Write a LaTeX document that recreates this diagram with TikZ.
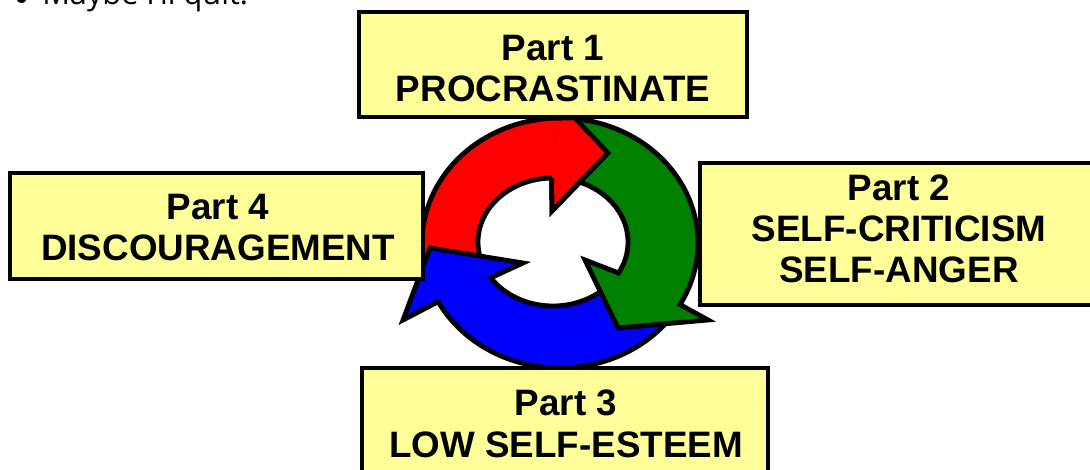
\documentclass[tikz,border=0pt]{standalone}
\usepackage{fontspec}
\setmainfont{Liberation Sans}
\newfontfamily\quitfont{Open Sans}
\definecolor{boxyellow}{RGB}{255,255,153}
\definecolor{cgreen}{RGB}{0,128,0}
\begin{document}
\begin{tikzpicture}[x=0.75pt,y=-0.75pt,
  box/.style={draw=black, line width=2.4pt, fill=boxyellow, inner sep=0pt},
  boxtext/.style={align=center, inner sep=0pt, font=\bfseries\fontsize{27.6}{31}\selectfont},
  arrowshape/.style={draw=black, line width=3.6pt, line join=miter},
  quitstyle/.style={anchor=base west, inner sep=0pt, font=\quitfont\fontsize{23}{27}\selectfont},
]
\useasboundingbox (0,0) rectangle (1090,470);

% partially visible line of text at the top
\node[quitstyle, font=\quitfont\fontsize{34}{38}\selectfont] (bullet) at (13,15) {•};
\node[quitstyle] (quit) at (42,5) {Maybe I’ll quit.};

% circular arrows
\filldraw[arrowshape, fill=red]
  plot[domain=160:267, samples=60] ({560+138*cos(\x)},{243+125*sin(\x)})
  -- (575,118) -- (608,153) -- (552,211)
  -- plot[domain=269:160, samples=60] ({553+75*cos(\x)},{242+64*sin(\x)}) -- cycle;
\filldraw[arrowshape, fill=blue]
  plot[domain=35:152, samples=60] ({560+138*cos(\x)},{243+125*sin(\x)})
  -- (403,320) -- (430,248) -- (523,263)
  -- plot[domain=146:35, samples=60] ({553+75*cos(\x)},{242+64*sin(\x)}) -- cycle;
\filldraw[arrowshape, fill=cgreen]
  plot[domain=268:389.5, samples=60] ({560+138*cos(\x)},{243+125*sin(\x)})
  -- (708,320) -- (618,328) -- (585,260)
  -- plot[domain=389:272, samples=60] ({553+75*cos(\x)},{242+64*sin(\x)}) -- cycle;
% red arrow head again, over the green tail
\fill[red] (552.78,118.17) -- (575,118) -- (608,153) -- (552,211) -- (551.69,178.01) -- cycle;
\draw[arrowshape] (552.78,118.17) -- (575,118) -- (608,153) -- (552,211) -- (551.69,178.01);

% boxes
\node[box, minimum width=291pt, minimum height=78.75pt] (b1) at (553,64.5) {};
\node[box, minimum width=298.5pt, minimum height=106.5pt] (b2) at (899,234) {};
\node[box, minimum width=304.5pt, minimum height=84pt] (b3) at (565,424) {};
\node[box, minimum width=309.75pt, minimum height=79.5pt] (b4) at (216.5,226) {};

\node[boxtext] (t1) at (553,68.4) {Part 1\\PROCRASTINATE};
\node[boxtext] (t2) at (899,229) {Part 2\\SELF-CRITICISM\\SELF-ANGER};
\node[boxtext] (t3) at (566,423.7) {Part 3\\LOW SELF-ESTEEM};
\node[boxtext] (t4) at (218,227.5) {Part 4\\DISCOURAGEMENT};
\end{tikzpicture}
\end{document}
